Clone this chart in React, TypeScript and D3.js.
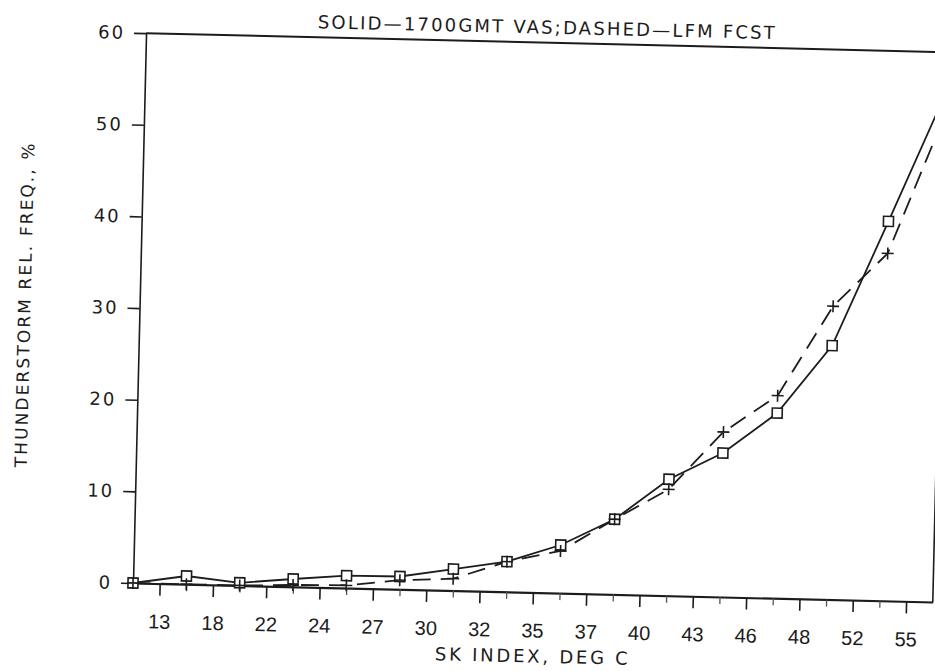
import React, { useEffect, useRef } from 'react';
import * as d3 from 'd3';

// SK index class labels (drawn between the plotted points)
const skLabels = ['13', '18', '22', '24', '27', '30', '32', '35', '37', '40', '43', '46', '48', '52', '55'];

// Solid line: 1700 GMT VAS, thunderstorm relative frequency (%)
const vasFreq = [0, 0.9, 0.3, 0.85, 1.35, 1.4, 2.35, 3.3, 5.25, 8.2, 12.7, 15.7, 20.2, 27.7, 41.4, 55.3];

// Dashed line: LFM forecast, thunderstorm relative frequency (%)
const lfmFreq = [0, 0, 0, 0.2, 0.3, 1.0, 1.3, 3.3, 4.6, 8.2, 11.6, 18.0, 22.1, 32.0, 37.9, 53];

const yTicks = [0, 10, 20, 30, 40, 50, 60];

const App: React.FC = () => {
  const svgRef = useRef<SVGSVGElement>(null);

  useEffect(() => {
    if (!svgRef.current) return;

    const svg = d3.select(svgRef.current);
    svg.selectAll('*').remove();

    const width = 935;
    const height = 671;
    const frame = { left: 133, right: 933, top: 33, bottom: 583 };
    const ink = '#1c1c1c';
    const font = "'DejaVu Sans', Verdana, sans-serif";

    svg.attr('width', width).attr('height', height);
    svg.append('rect').attr('width', width).attr('height', height).attr('fill', '#fff');

    // the scanned page sits slightly askew
    const g = svg
      .append('g')
      .attr('transform', `rotate(1.36, ${frame.left}, ${frame.bottom})`);

    // Scales
    const xScale = d3
      .scaleLinear()
      .domain([0, vasFreq.length - 1])
      .range([frame.left, frame.right]);

    const yScale = d3
      .scaleLinear()
      .domain([0, 60])
      .range([frame.bottom, frame.top]);

    // Top and right frame lines
    g.append('line')
      .attr('x1', frame.left)
      .attr('x2', frame.right + 30)
      .attr('y1', yScale(60))
      .attr('y2', yScale(60))
      .attr('stroke', ink)
      .attr('stroke-width', 2);

    g.append('line')
      .attr('x1', frame.right)
      .attr('x2', frame.right)
      .attr('y1', yScale(60))
      .attr('y2', yScale(0))
      .attr('stroke', ink)
      .attr('stroke-width', 1.6);

    // Y axis
    const yAxis = g
      .append('g')
      .attr('transform', `translate(${frame.left},0)`)
      .call(d3.axisLeft(yScale).tickValues(yTicks).tickSize(12).tickSizeOuter(0).tickPadding(9));

    yAxis.select('.domain').attr('stroke', ink).attr('stroke-width', 1.6);
    yAxis.selectAll('line').attr('stroke', ink).attr('stroke-width', 1.6);
    yAxis
      .selectAll('text')
      .attr('font-family', font)
      .attr('font-size', 18)
      .attr('letter-spacing', 2)
      .attr('fill', ink);

    // X axis: long ticks at the class labels
    const labelPos = skLabels.map((_, i) => i + 0.5);
    const xAxis = g
      .append('g')
      .attr('transform', `translate(0,${frame.bottom})`)
      .call(
        d3
          .axisBottom(xScale)
          .tickValues(labelPos)
          .tickFormat((_, i) => skLabels[i])
          .tickSize(12)
          .tickSizeOuter(0)
      );

    xAxis.select('.domain').attr('stroke', ink).attr('stroke-width', 2.2);
    xAxis.selectAll('line').attr('stroke', ink).attr('stroke-width', 1.6);
    xAxis
      .selectAll('text')
      .attr('y', 45)
      .attr('dy', 0)
      .attr('font-family', "'Liberation Sans Narrow', 'Arial Narrow', 'Liberation Sans', sans-serif")
      .attr('font-size', 20)
      .attr('fill', ink);

    // short ticks under each plotted point
    const minor = g
      .append('g')
      .attr('transform', `translate(0,${frame.bottom})`)
      .call(
        d3
          .axisBottom(xScale)
          .tickValues(d3.range(1, vasFreq.length - 1))
          .tickFormat(() => '')
          .tickSize(7)
          .tickSizeOuter(0)
      );
    minor.select('.domain').remove();
    minor.selectAll('line').attr('stroke', '#555').attr('stroke-width', 1.3);

    // Lines
    const line = d3
      .line<number>()
      .x((_, i) => xScale(i))
      .y(d => yScale(d));

    g.append('path')
      .datum(lfmFreq)
      .attr('fill', 'none')
      .attr('stroke', ink)
      .attr('stroke-width', 1.8)
      .attr('stroke-dasharray', '18,10')
      .attr('d', line);

    g.append('path')
      .datum(vasFreq)
      .attr('fill', 'none')
      .attr('stroke', ink)
      .attr('stroke-width', 1.8)
      .attr('d', line);

    // Square markers (solid series)
    g.selectAll('.sq')
      .data(vasFreq)
      .join('rect')
      .attr('class', 'sq')
      .attr('x', (_, i) => xScale(i) - 5)
      .attr('y', d => yScale(d) - 5)
      .attr('width', 10)
      .attr('height', 10)
      .attr('fill', '#fff')
      .attr('stroke', ink)
      .attr('stroke-width', 1.6);

    // Plus markers (dashed series)
    g.selectAll('.plus')
      .data(lfmFreq)
      .join('path')
      .attr('class', 'plus')
      .attr('transform', (d, i) => `translate(${xScale(i)},${yScale(d)})`)
      .attr('d', 'M-6,0H6M0,-6V6')
      .attr('fill', 'none')
      .attr('stroke', ink)
      .attr('stroke-width', 1.6);

    // Titles
    const midX = (frame.left + frame.right) / 2;

    g.append('text')
      .attr('x', midX)
      .attr('y', frame.top - 9)
      .attr('text-anchor', 'middle')
      .attr('font-family', font)
      .attr('font-size', 18)
      .attr('textLength', 457)
      .attr('lengthAdjust', 'spacing')
      .attr('fill', ink)
      .text('SOLID—1700GMT VAS;DASHED—LFM FCST');

    g.append('text')
      .attr('x', midX)
      .attr('y', frame.bottom + 70)
      .attr('text-anchor', 'middle')
      .attr('font-family', font)
      .attr('font-size', 18)
      .attr('textLength', 193)
      .attr('lengthAdjust', 'spacing')
      .attr('fill', ink)
      .text('SK INDEX, DEG C');

    g.append('text')
      .attr('transform', `translate(18, ${(frame.top + frame.bottom) / 2}) rotate(-90)`)
      .attr('text-anchor', 'middle')
      .attr('dominant-baseline', 'central')
      .attr('font-family', font)
      .attr('font-size', 17)
      .attr('textLength', 324)
      .attr('lengthAdjust', 'spacing')
      .attr('fill', ink)
      .text('THUNDERSTORM REL. FREQ., %');
  }, []);

  return (
    <svg
      ref={svgRef}
      style={{ position: 'absolute', left: 0, top: 0, display: 'block' }}
    ></svg>
  );
};

export default App;
